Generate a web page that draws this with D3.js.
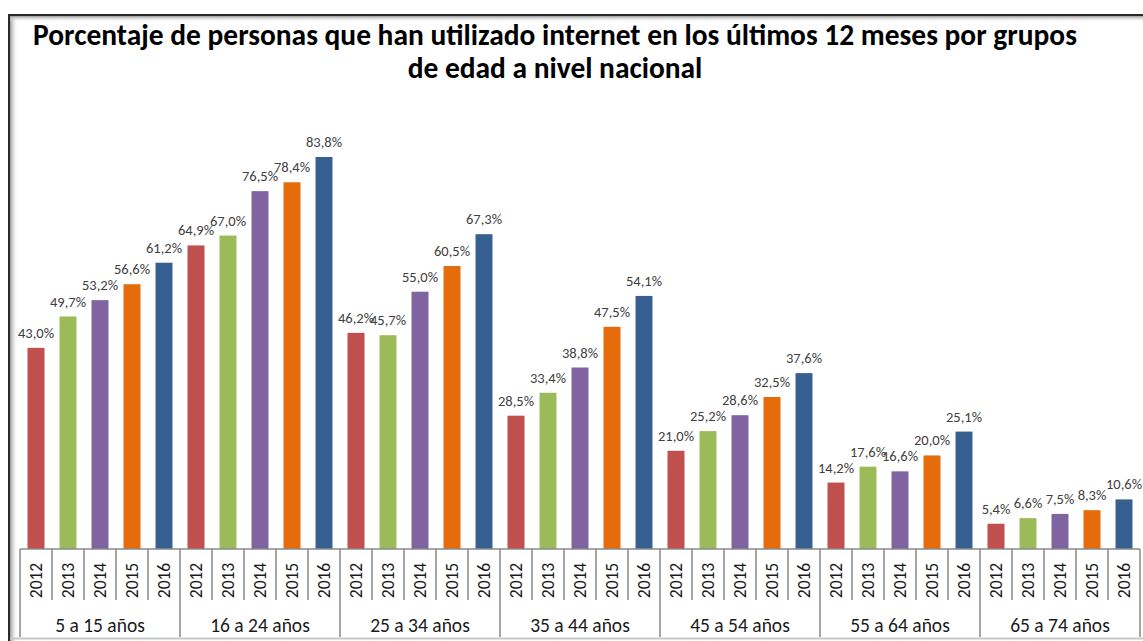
<!DOCTYPE html>
<html><head><meta charset="utf-8">
<script src="https://cdn.jsdelivr.net/npm/d3@7"></script>
<style>html,body{margin:0;padding:0;background:#fff;}svg{display:block;}</style>
</head><body>
<svg id="c" width="1143" height="641"></svg>
<script>
const groups = ["5 a 15 años","16 a 24 años","25 a 34 años","35 a 44 años","45 a 54 años","55 a 64 años","65 a 74 años"];
const years = ["2012","2013","2014","2015","2016"];
const v2012 = [43.0, 64.9, 46.2, 28.5, 21.0, 14.2, 5.4];
const v2013 = [49.7, 67.0, 45.7, 33.4, 25.2, 17.6, 6.6];
const v2014 = [53.2, 76.5, 55.0, 38.8, 28.6, 16.6, 7.5];
const v2015 = [56.6, 78.4, 60.5, 47.5, 32.5, 20.0, 8.3];
const v2016 = [61.2, 83.8, 67.3, 54.1, 37.6, 25.1, 10.6];
const colors = ["#C0504D","#9BBB59","#8064A2","#E46C0A","#376092"];
const titleLines = ["Porcentaje de personas que han utilizado internet en los últimos 12 meses por grupos","de edad a nivel nacional"];

const series = [v2012, v2013, v2014, v2015, v2016];
const data = [];
groups.forEach((g, gi) => years.forEach((y, yi) => data.push({g, y, yi, v: series[yi][gi]})));

const svg = d3.select("#c");
const font = "Carlito, Calibri, 'Open Sans', sans-serif";

// frame
const defs = svg.append("defs");
const gl = defs.append("linearGradient").attr("id","gl").attr("x1","0").attr("x2","1").attr("y1","0").attr("y2","0");
gl.append("stop").attr("offset","0").attr("stop-color","#9a9a9a");
gl.append("stop").attr("offset","1").attr("stop-color","#ffffff").attr("stop-opacity",0);
const gt = defs.append("linearGradient").attr("id","gt").attr("x1","0").attr("x2","0").attr("y1","0").attr("y2","1");
gt.append("stop").attr("offset","0").attr("stop-color","#9a9a9a");
gt.append("stop").attr("offset","1").attr("stop-color","#ffffff").attr("stop-opacity",0);
svg.append("rect").attr("x",10).attr("y",16).attr("width",8).attr("height",625).attr("fill","url(#gl)");
svg.append("rect").attr("x",10).attr("y",16).attr("width",1133).attr("height",6).attr("fill","url(#gt)");
svg.append("line").attr("x1",9).attr("x2",1143).attr("y1",15).attr("y2",15).attr("stroke","#2a2a2a").attr("stroke-width",2);
svg.append("line").attr("x1",9).attr("x2",9).attr("y1",14).attr("y2",641).attr("stroke","#2a2a2a").attr("stroke-width",2);
svg.append("line").attr("x1",10).attr("x2",1143).attr("y1",638.5).attr("y2",638.5).attr("stroke","#c8c8c8").attr("stroke-width",2);

// title
const tg = svg.append("g").attr("font-family", font).attr("font-weight","bold").attr("fill","#000").attr("text-anchor","middle");
const t1 = tg.append("text").attr("x",555).attr("y",45).attr("font-size",24).text(titleLines[0]);
const w = t1.node().getComputedTextLength();
const fs = 24 * 1044 / w;
t1.attr("font-size", fs);
tg.append("text").attr("x",555).attr("y",78).attr("font-size",fs).text(titleLines[1]);

// scales
const x0 = d3.scaleBand().domain(groups).range([20,1140]).padding(0);
const x1 = d3.scaleBand().domain(years).range([0, x0.bandwidth()]).paddingInner(0.47).paddingOuter(0.235);
const y = d3.scaleLinear().domain([0, 83.8]).range([549, 157]);

// bars
svg.append("g").selectAll("rect").data(data).join("rect")
  .attr("x", d => x0(d.g) + x1(d.y))
  .attr("y", d => y(d.v))
  .attr("width", x1.bandwidth())
  .attr("height", d => y(0) - y(d.v))
  .attr("fill", d => colors[d.yi]);

// labels
svg.append("g").attr("font-family", font).attr("font-size",14.5).attr("fill","#404040").attr("text-anchor","middle")
  .selectAll("text").data(data).join("text")
  .attr("x", d => x0(d.g) + x1(d.y) + x1.bandwidth()/2)
  .attr("y", d => y(d.v) - 10)
  .text(d => d.v.toFixed(1).replace(".", ",") + "%");

// axis
const ax = svg.append("g").attr("stroke","#8a8a8a").attr("stroke-width",1.5);
ax.append("line").attr("x1",20).attr("x2",1140).attr("y1",y(0)).attr("y2",y(0));
groups.forEach(g => {
  ax.append("line").attr("x1",x0(g)).attr("x2",x0(g)).attr("y1",y(0)).attr("y2",637);
  years.slice(1).forEach(yy => {
    const xx = x0(g) + x1.step()*years.indexOf(yy);
    ax.append("line").attr("x1",xx).attr("x2",xx).attr("y1",y(0)).attr("y2",600);
  });
});
ax.append("line").attr("x1",1140).attr("x2",1140).attr("y1",y(0)).attr("y2",637);

// year labels
svg.append("g").attr("font-family", font).attr("font-size",17.5).attr("fill","#1a1a1a")
  .selectAll("text").data(data).join("text")
  .attr("transform", d => `translate(${x0(d.g) + x1(d.y) + x1.bandwidth()/2},580.5) rotate(-90)`)
  .attr("text-anchor","middle").attr("dominant-baseline","central")
  .text(d => d.y);

// group labels
svg.append("g").attr("font-family", font).attr("font-size",19.5).attr("fill","#1a1a1a").attr("text-anchor","middle")
  .selectAll("text").data(groups).join("text")
  .attr("x", g => x0(g) + x0.bandwidth()/2).attr("y", 632)
  .text(g => g);
</script>
</body></html>
